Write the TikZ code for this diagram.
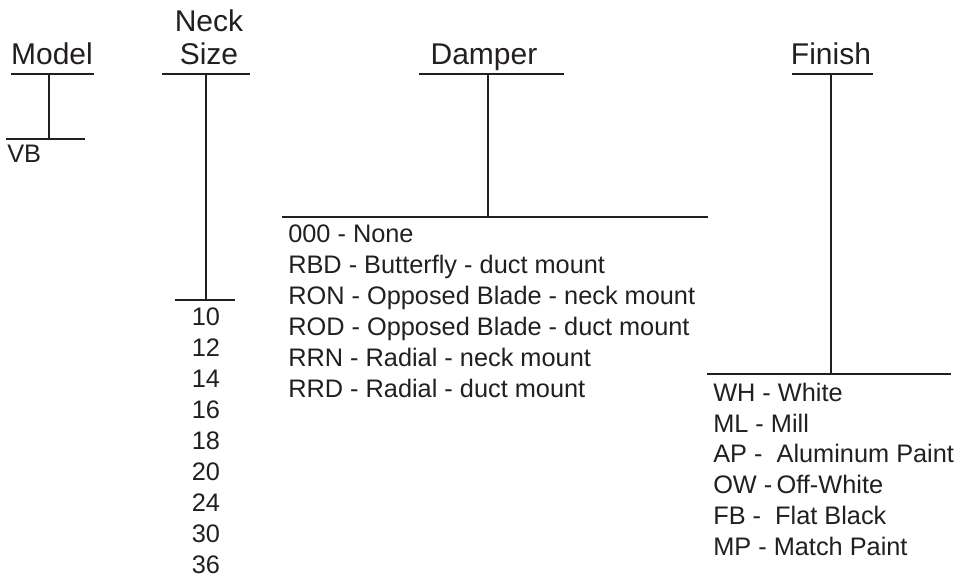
\documentclass[tikz,border=0pt]{standalone}
\usepackage{fontspec}
\setmainfont{Liberation Sans}
\definecolor{ink}{HTML}{231F20}
\begin{document}
\begin{tikzpicture}
            [x=0.75pt, y=-0.75pt,
            bar/.style={draw=ink, line width=1.9pt},
            head/.style={anchor=base, inner sep=0pt, text=ink, font=\fontsize{22.5}{27}\selectfont},
            item/.style={anchor=base west, inner sep=0pt, text=ink, font=\fontsize{19}{23}\selectfont},
            size/.style={anchor=base, inner sep=0pt, text=ink, font=\fontsize{19}{23}\selectfont}]

            \useasboundingbox (0,0) rectangle (957,580);

            % Headings
            \node[head] (model) at (52,65) {Model};
            \node[head] (neck) at (209,32) {Neck};
            \node[head] (size) at (209,65) {Size};
            \node[head] (damper) at (484,65) {Damper};
            \node[head] (finish) at (831,65) {Finish};

            % Stem ends
            \coordinate (modelT) at (49,74);
            \coordinate (modelB) at (49,139);
            \coordinate (sizeT) at (206,74);
            \coordinate (sizeB) at (206,300);
            \coordinate (damperT) at (488,74);
            \coordinate (damperB) at (488,217);
            \coordinate (finishT) at (831,74);
            \coordinate (finishB) at (831,374);

            % Bars under the headings
            \draw[bar] (11,74) -- (94,74);
            \draw[bar] (162,74) -- (250,74);
            \draw[bar] (419,74) -- (564,74);
            \draw[bar] (792,74) -- (873,74);

            % Bars over the choices
            \draw[bar] (6,139) -- (85,139);
            \draw[bar] (175,300) -- (235,300);
            \draw[bar] (282,217) -- (708,217);
            \draw[bar] (707,374) -- (951,374);

            % Stems
            \draw[bar] (modelT) -- (modelB);
            \draw[bar] (sizeT) -- (sizeB);
            \draw[bar] (damperT) -- (damperB);
            \draw[bar] (finishT) -- (finishB);

            % Model
            \node[item] (vb) at (7,163) {VB};

            % Neck sizes
            \node[size] (s10) at (206,326) {10};
            \node[size] (s12) at (206,357) {12};
            \node[size] (s14) at (206,388) {14};
            \node[size] (s16) at (206,419) {16};
            \node[size] (s18) at (206,450) {18};
            \node[size] (s20) at (206,481) {20};
            \node[size] (s24) at (206,512) {24};
            \node[size] (s30) at (206,543) {30};
            \node[size] (s36) at (206,574) {36};

            % Dampers
            \node[item] (none) at (288,243) {000 - None};
            \node[item] (rbd) at (288,274) {RBD - Butterfly - duct mount};
            \node[item] (ron) at (288,305) {RON - Opposed Blade - neck mount};
            \node[item] (rod) at (288,336) {ROD - Opposed Blade - duct mount};
            \node[item] (rrn) at (288,367) {RRN - Radial - neck mount};
            \node[item] (rrd) at (288,398) {RRD - Radial - duct mount};

            % Finishes
            \node[item] (wh) at (713,402) {WH - White};
            \node[item] (ml) at (713,433) {ML - Mill};
            \node[item] (ap) at (713,463) {AP -\ \ Aluminum Paint};
            \node[item] (ow) at (713,494) {OW -\,Off-White};
            \node[item] (fb) at (713,525) {FB -\ \ Flat Black};
            \node[item] (mp) at (713,556) {MP -\ Match Paint};

        \end{tikzpicture}
\end{document}
